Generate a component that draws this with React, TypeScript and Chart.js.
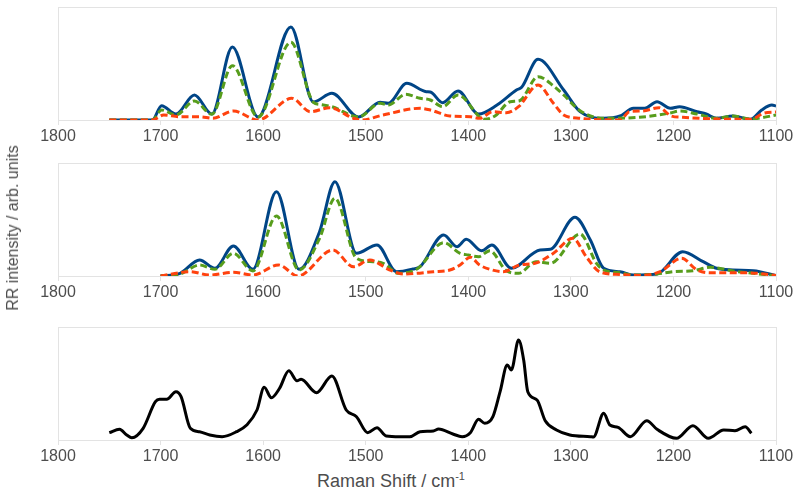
import React, { useEffect, useRef } from "react";
import { Chart, registerables } from "chart.js";

Chart.register(...registerables);

// x axis ticks (wavenumber, cm-1), reversed axis
const xTicks = [1800, 1700, 1600, 1500, 1400, 1300, 1200, 1100];

// Panel 1 spectra: [wavenumber, intensity (arb.)]
const p1Blue: [number, number][] = [[1750,0],[1708,0],[1699,14.3],[1685,6],[1667,25],[1650,6],[1630,73],[1605,3],[1573,93],[1551,18],[1533,26.7],[1507,3],[1486,17.7],[1478,16.7],[1460,36.7],[1441,28.3],[1437,28],[1425,17.3],[1410,29],[1390,6],[1372,15],[1353,30],[1348,32.7],[1332,60.7],[1307,30],[1291,8.3],[1268,1.7],[1252,4],[1239,11.7],[1228,11.7],[1216,18.3],[1203,11.7],[1194,13.3],[1177,8.3],[1168,6],[1158,1.7],[1142,4],[1125,0.7],[1114,10],[1104,15],[1100,14]];
const p1Green: [number, number][] = [[1750,0],[1708,0],[1699,10],[1685,5],[1667,19],[1650,5.7],[1630,54.3],[1605,3],[1573,77.7],[1551,17.7],[1545,15.7],[1533,13.3],[1507,3],[1486,16.7],[1478,15],[1461,25.7],[1447,21.7],[1437,20],[1425,13.3],[1410,25],[1384,0.7],[1374,4],[1359,18.3],[1350,19.3],[1332,43.3],[1316,33.3],[1307,25],[1291,9.3],[1268,1.7],[1233,2.7],[1203,7],[1194,9],[1177,6],[1158,1.7],[1142,4],[1125,1],[1100,5]];
const p1Orange: [number, number][] = [[1750,0],[1708,0],[1697,5],[1681,3.3],[1662,3.3],[1649,1.7],[1629,9],[1605,0],[1572,21.7],[1554,8.3],[1535,12.3],[1512,1.7],[1504,0],[1483,5],[1447,11.7],[1437,10],[1418,4],[1398,3.3],[1389,1.7],[1376,8.3],[1363,7.3],[1351,13.3],[1332,35],[1317,16.7],[1307,5],[1291,1.7],[1252,0],[1243,8.3],[1230,9],[1214,12.3],[1202,4],[1191,2.7],[1158,1],[1125,0.7],[1112,6.7],[1100,8]];

// Panel 2 spectra
const p2Blue: [number, number][] = [[1700,0],[1681,2.7],[1662,16],[1647,7.7],[1629,30],[1610,6.7],[1587,84.3],[1565,6.7],[1545,44.3],[1530,94.3],[1509,22.7],[1489,31],[1470,4.3],[1454,7],[1447,9.3],[1424,41],[1411,29.3],[1402,36.7],[1387,25.3],[1377,31],[1358,7.7],[1330,26],[1320,26.7],[1296,58.7],[1281,36],[1268,7.7],[1252,4.3],[1239,1],[1216,2],[1191,24.3],[1171,14.3],[1158,7.7],[1142,6],[1122,5.3],[1100,0.5]];
const p2Green: [number, number][] = [[1700,0],[1681,2],[1662,11],[1647,6.7],[1629,22.7],[1610,5],[1587,60],[1565,6],[1545,37.7],[1530,77.7],[1509,17.7],[1493,14.3],[1483,12.7],[1468,2.7],[1450,7],[1424,33.3],[1408,22.7],[1400,21],[1390,19.3],[1379,25.3],[1363,5.3],[1351,2.7],[1334,14.3],[1320,12.7],[1291,42],[1275,12.7],[1268,6],[1252,3.3],[1239,1],[1216,2],[1200,4.3],[1181,5.3],[1164,8.7],[1142,5],[1122,2.7],[1100,0.3]];
const p2Orange: [number, number][] = [[1700,0],[1671,4.3],[1652,1],[1629,3.7],[1610,1],[1585,11],[1566,0],[1532,26],[1512,9.3],[1496,16],[1478,6.7],[1463,2],[1434,4.3],[1418,6],[1408,11],[1398,18.7],[1389,11],[1379,6.7],[1366,4.3],[1350,11],[1335,12.7],[1317,22.7],[1298,37.7],[1285,19.3],[1272,4.3],[1252,1.5],[1232,0.5],[1213,4.3],[1192,17.7],[1177,6],[1164,3.3],[1142,3.3],[1116,2.5],[1100,0.5]];

// Panel 3 spectrum
const p3Black: [number, number][] = [[1750,7.3],[1740,10.7],[1733,5],[1728,2.3],[1717,11.7],[1705,38.3],[1701,40.7],[1694,40.7],[1685,48.3],[1680,43.3],[1671,11.7],[1662,8.3],[1652,5],[1640,3.3],[1626,8.3],[1616,15],[1606,30],[1599,52.7],[1592,42.3],[1584,51.7],[1575,69.3],[1567,59.3],[1563,60.7],[1548,47.3],[1533,64],[1519,30],[1509,23.3],[1498,7.3],[1489,12.3],[1480,4],[1467,3.3],[1457,3.3],[1447,8.3],[1434,9],[1429,11],[1415,6],[1406,3.3],[1398,7.3],[1390,20.7],[1384,16.7],[1376,23.3],[1369,48.3],[1362,75],[1358,70],[1351,100],[1346,80],[1342,48.3],[1333,40],[1325,19.3],[1314,10],[1301,5],[1281,3.3],[1278,3],[1268,26.7],[1262,15],[1254,12.7],[1242,3.3],[1226,19.3],[1216,10.7],[1197,1.7],[1181,14.3],[1166,1.7],[1151,10],[1140,9.3],[1130,13.3],[1124,6.7]];

const Y_MAX = 113;
const FONT = "'Liberation Sans', Arial, sans-serif";
const TEXT = "#4d4d4d";
const FRAME = "#e3e3e3";

type Series = { data: [number, number][]; color: string; dash?: number[] };

function Panel({ top, series }: { top: number; series: Series[] }) {
  const ref = useRef<HTMLCanvasElement | null>(null);
  useEffect(() => {
    if (!ref.current) return;
    const chart = new Chart(ref.current, {
      type: "line",
      data: {
        datasets: series.map((s) => ({
          data: s.data.map(([x, y]) => ({ x, y })),
          borderColor: s.color,
          borderWidth: 3,
          borderDash: s.dash || [],
          pointRadius: 0,
          fill: false,
          cubicInterpolationMode: "monotone" as const,
          borderCapStyle: "butt" as const,
          borderJoinStyle: "round" as const,
        })),
      },
      options: {
        animation: false,
        responsive: false,
        maintainAspectRatio: false,
        layout: { padding: { left: 58, right: 24, top: 7, bottom: 0 } },
        plugins: { legend: { display: false }, tooltip: { enabled: false } },
        scales: {
          x: {
            type: "linear",
            reverse: true,
            min: 1100,
            max: 1800,
            afterBuildTicks: (s: any) => {
              s.ticks = xTicks.map((v) => ({ value: v }));
            },
            afterFit: (s: any) => {
              s.height = 30;
            },
            ticks: {
              color: TEXT,
              font: { family: FONT, size: 16 },
              padding: 2,
              maxRotation: 0,
              autoSkip: false,
              callback: (v: any) => String(v),
            },
            grid: {
              drawOnChartArea: true,
              color: (c: any) =>
                c.tick && (c.tick.value === 1800 || c.tick.value === 1100) ? FRAME : "rgba(0,0,0,0)",
              tickColor: FRAME,
              tickLength: 5,
              lineWidth: 1,
            },
            border: { display: true, color: FRAME },
          },
          y: {
            type: "linear",
            min: 0,
            max: Y_MAX,
            afterBuildTicks: (s: any) => {
              s.ticks = [{ value: 0 }, { value: Y_MAX }];
            },
            afterFit: (s: any) => {
              s.width = 0;
            },
            ticks: { display: false },
            grid: { color: FRAME, drawTicks: false, lineWidth: 1 },
            border: { display: false },
          },
        },
      },
    });
    return () => chart.destroy();
  }, []);
  return (
    <div style={{ position: "absolute", left: 0, top, width: 800, height: 150 }}>
      <canvas ref={ref} width={800} height={150} style={{ width: 800, height: 150, display: "block" }} />
    </div>
  );
}

const BLUE = "#004586";
const GREEN = "#579d1c";
const ORANGE = "#ff420e";
const DASH = [7, 3.5];

export default function App() {
  return (
    <div style={{ position: "absolute", left: 0, top: 0, width: 800, height: 494, background: "#fff", overflow: "hidden", fontFamily: FONT }}>
      <Panel
        top={0}
        series={[
          { data: p1Orange, color: ORANGE, dash: DASH },
          { data: p1Green, color: GREEN, dash: DASH },
          { data: p1Blue, color: BLUE },
        ]}
      />
      <Panel
        top={156}
        series={[
          { data: p2Orange, color: ORANGE, dash: DASH },
          { data: p2Green, color: GREEN, dash: DASH },
          { data: p2Blue, color: BLUE },
        ]}
      />
      <Panel top={320} series={[{ data: p3Black, color: "#000000" }]} />
      <div
        style={{
          position: "absolute",
          left: 13,
          top: 228,
          transform: "translate(-50%, -50%) rotate(-90deg)",
          whiteSpace: "nowrap",
          fontSize: 16,
          color: TEXT,
          lineHeight: "18px",
        }}
      >
        RR intensity / arb. units
      </div>
      <div
        style={{
          position: "absolute",
          left: 391,
          top: 471,
          transform: "translateX(-50%)",
          whiteSpace: "nowrap",
          fontSize: 18,
          color: TEXT,
          lineHeight: "20px",
        }}
      >
        Raman Shift / cm<sup style={{ fontSize: 11, verticalAlign: "top", lineHeight: "11px" }}>-1</sup>
      </div>
    </div>
  );
}
